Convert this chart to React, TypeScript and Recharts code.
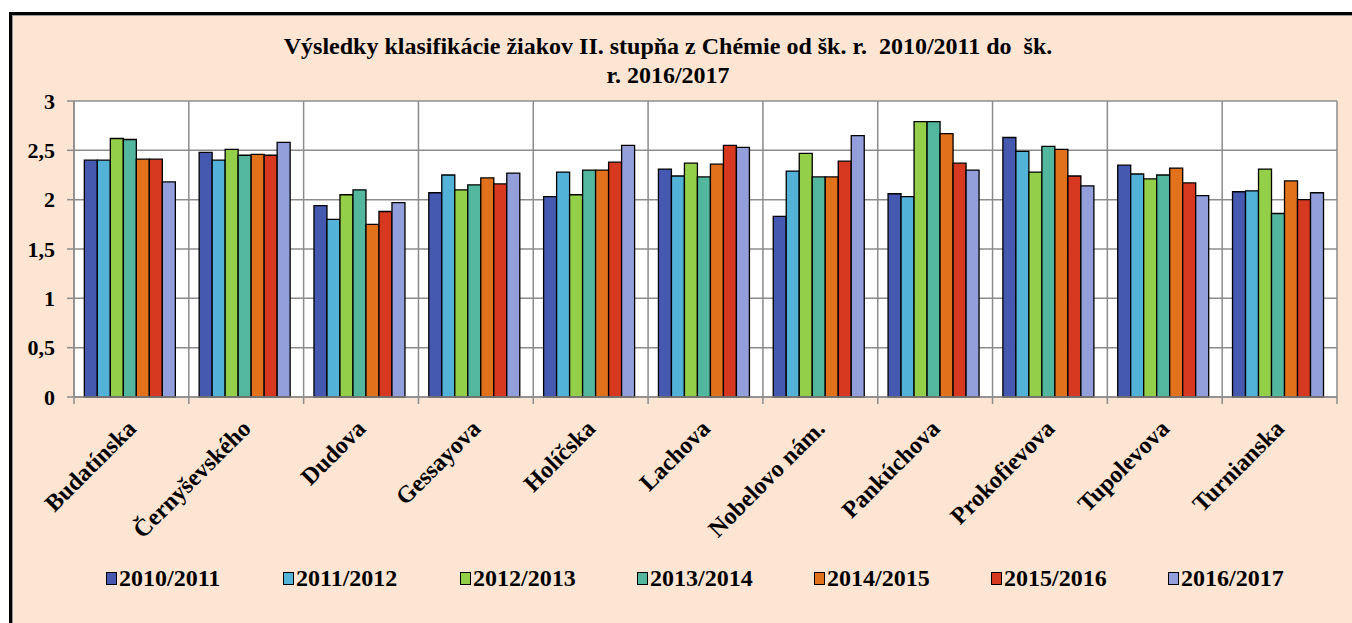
import React from 'react';
import { BarChart, Bar, XAxis, YAxis, CartesianGrid, Legend } from 'recharts';

const categories = ['Budatínska', 'Černyševského', 'Dudova', 'Gessayova', 'Holíčska', 'Lachova', 'Nobelovo nám.', 'Pankúchova', 'Prokofievova', 'Tupolevova', 'Turnianska'];

const seriesNames = ['2010/2011', '2011/2012', '2012/2013', '2013/2014', '2014/2015', '2015/2016', '2016/2017'];

const s2010 = [2.40, 2.48, 1.94, 2.07, 2.03, 2.31, 1.83, 2.06, 2.63, 2.35, 2.08];
const s2011 = [2.40, 2.40, 1.80, 2.25, 2.28, 2.24, 2.29, 2.03, 2.49, 2.26, 2.09];
const s2012 = [2.62, 2.51, 2.05, 2.10, 2.05, 2.37, 2.47, 2.79, 2.28, 2.21, 2.31];
const s2013 = [2.61, 2.45, 2.10, 2.15, 2.30, 2.23, 2.23, 2.79, 2.54, 2.25, 1.86];
const s2014 = [2.41, 2.46, 1.75, 2.22, 2.30, 2.36, 2.23, 2.67, 2.51, 2.32, 2.19];
const s2015 = [2.41, 2.45, 1.88, 2.16, 2.38, 2.55, 2.39, 2.37, 2.24, 2.17, 2.00];
const s2016 = [2.18, 2.58, 1.97, 2.27, 2.55, 2.53, 2.65, 2.30, 2.14, 2.04, 2.07];

const seriesValues = [s2010, s2011, s2012, s2013, s2014, s2015, s2016];
const colors = ['#4559B0', '#52B2D8', '#94CF4A', '#52B79D', '#E1711B', '#D63820', '#939FDA'];

const yTicks = [0, 0.5, 1, 1.5, 2, 2.5, 3];

const data = categories.map((name, i) => {
  const row: Record<string, string | number> = { name };
  seriesNames.forEach((s, j) => {
    row[s] = seriesValues[j][i];
  });
  return row;
});

const FONT = "'Liberation Serif', 'Times New Roman', serif";
const GRID = '#8c8c8c';

const XTick = (props: any) => {
  const { x, y, payload, index } = props;
  const off = payload && payload.offset != null ? payload.offset : 57.4;
  const ax = x + 6;
  const ay = y + 26;
  return (
    <g>
      <line x1={x - off} y1={y - 7} x2={x - off} y2={y} stroke={GRID} strokeWidth={1.5} />
      {index === categories.length - 1 && (
        <line x1={x + off} y1={y - 7} x2={x + off} y2={y} stroke={GRID} strokeWidth={1.5} />
      )}
      <text
        x={ax}
        y={ay}
        transform={`rotate(-45, ${ax}, ${ay})`}
        textAnchor="end"
        fontFamily={FONT}
        fontWeight="bold"
        fontSize={24}
        fill="#000"
      >
        {payload.value}
      </text>
    </g>
  );
};

const LegendContent = () => (
  <div style={{ position: 'relative', height: 30, width: 1352, fontFamily: FONT, fontWeight: 'bold', fontSize: 24 }}>
    {seriesNames.map((s, i) => (
      <div key={s} style={{ position: 'absolute', left: 106 + i * 177, top: 0, display: 'flex', alignItems: 'center', height: 30 }}>
        <span style={{ display: 'inline-block', width: 9, height: 11, background: colors[i], border: '1.5px solid #000', marginRight: 2 }} />
        <span style={{ color: '#000' }}>{s}</span>
      </div>
    ))}
  </div>
);

export default function App() {
  return (
    <div style={{ position: 'absolute', left: 0, top: 0, width: 1352, height: 623, background: '#fff', overflow: 'hidden' }}>
      <div
        style={{
          position: 'absolute',
          left: 9,
          top: 12,
          width: 1400,
          height: 700,
          background: '#FDE5D3',
          borderLeft: '3px solid #000',
          borderTop: '3px solid #000',
          boxShadow: 'inset 1px 1px 0 #999',
        }}
      />
      <div
        style={{
          position: 'absolute',
          left: 0,
          width: 1336,
          top: 32,
          textAlign: 'center',
          fontFamily: FONT,
          fontWeight: 'bold',
          fontSize: 24,
          lineHeight: '29px',
          color: '#000',
        }}
      >
        <div>Výsledky klasifikácie žiakov II. stupňa z Chémie od šk. r.&nbsp; 2010/2011 do&nbsp; šk.</div>
        <div>r. 2016/2017</div>
      </div>
      <div style={{ position: 'absolute', left: 0, top: 0 }}>
        <BarChart
          width={1352}
          height={623}
          data={data}
          margin={{ top: 101, right: 15, bottom: 0, left: 14 }}
          barCategoryGap="9%"
          barGap={0}
        >
          <CartesianGrid
            fill="#fff"
            stroke={GRID}
            strokeWidth={1.5}
            verticalCoordinatesGenerator={({ offset }: any) =>
              categories.map((_, i) => offset.left + (i * offset.width) / categories.length).concat([offset.left + offset.width])
            }
          />
          <XAxis
            dataKey="name"
            height={226}
            interval={0}
            tickLine={false}
            tickSize={7}
            tickMargin={0}
            axisLine={{ stroke: GRID, strokeWidth: 1.5 }}
            tick={<XTick />}
          />
          <YAxis
            width={60}
            domain={[0, 3]}
            ticks={yTicks}
            interval={0}
            tickSize={7}
            tickMargin={12}
            tickLine={{ stroke: GRID, strokeWidth: 1.5 }}
            axisLine={{ stroke: GRID, strokeWidth: 1.5 }}
            tickFormatter={(v: number) => String(v).replace('.', ',')}
            tick={{ fill: '#000', fontFamily: FONT, fontWeight: 'bold', fontSize: 22 }}
          />
          <Legend
            layout="horizontal"
            verticalAlign="middle"
            align="center"
            wrapperStyle={{ left: 0, top: 563, width: 1352 }}
            content={<LegendContent />}
          />
          {seriesNames.map((s, i) => (
            <Bar key={s} dataKey={s} fill={colors[i]} stroke="#000" strokeWidth={1.3} isAnimationActive={false} />
          ))}
        </BarChart>
      </div>
    </div>
  );
}
